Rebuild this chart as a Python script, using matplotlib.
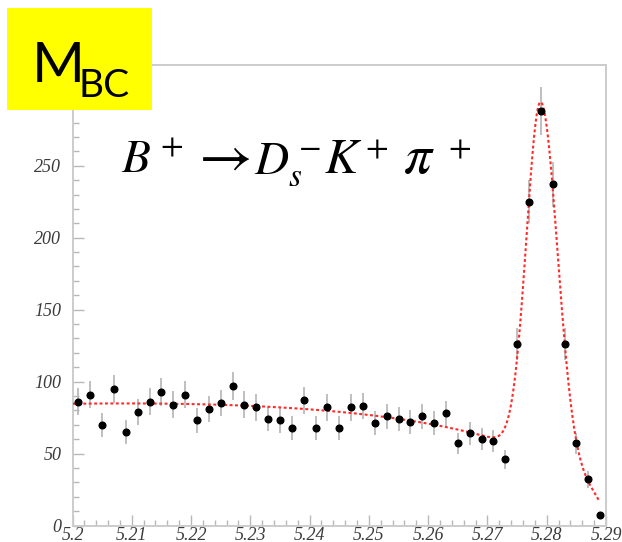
import numpy as np
import matplotlib
matplotlib.use("Agg")
import matplotlib.pyplot as plt
from matplotlib.patches import Rectangle
from matplotlib.ticker import MultipleLocator

# M_bc histogram, 45 bins between 5.20 and 5.29 GeV
mass_lo, mass_hi, n_bins = 5.20, 5.29, 45
counts = [86, 91, 70, 95, 65, 79, 86, 93, 84, 91,
          73, 81, 85, 97, 84, 82, 74, 73, 68, 87,
          68, 82, 68, 82, 83, 71, 76, 74, 72, 76,
          71, 78, 57, 64, 60, 59, 46, 126, 225, 288,
          237, 126, 57, 32, 7]

# fit: argus background + bifurcated gaussian signal
bkg_at_lo = 84.6
argus_end = 5.29
argus_c = -15.9
sig_mean = 5.279
sig_height = 246.0
sig_left = 0.0024
sig_right = 0.0028
fit_hi = 5.2889

xticks = [5.20, 5.21, 5.22, 5.23, 5.24, 5.25, 5.26, 5.27, 5.28, 5.29]
xticklabels = ["5.2", "5.21", "5.22", "5.23", "5.24", "5.25", "5.26", "5.27", "5.28", "5.29"]
yticks = [0, 50, 100, 150, 200, 250, 300]
yticklabels = ["0", "50", "100", "150", "200", "250", ""]  # 300 sits under the tag

W, H = 622, 542

def argus(m):
    x = m / argus_end
    z = np.clip(1 - x * x, 0, None)
    return m * np.sqrt(z) * np.exp(argus_c * z)

def fit(m):
    bkg = bkg_at_lo * argus(m) / argus(mass_lo)
    s = np.where(m < sig_mean, sig_left, sig_right)
    return bkg + sig_height * np.exp(-0.5 * ((m - sig_mean) / s) ** 2)

bw = (mass_hi - mass_lo) / n_bins
centers = mass_lo + bw * (np.arange(n_bins) + 0.5)
counts = np.array(counts, dtype=float)

plt.rcParams["mathtext.fontset"] = "stix"
fig = plt.figure(figsize=(W / 100, H / 100), dpi=100)
ax = fig.add_axes([72.5 / W, (H - 525.5) / H, (606 - 72.5) / W, (525.5 - 65) / H])

ax.errorbar(centers, counts, yerr=np.sqrt(counts), fmt="none",
            ecolor="#b4b4b4", elinewidth=1.2, zorder=2)
mm = np.linspace(mass_lo, fit_hi, 800)
ax.plot(mm, fit(mm), color="#ff2a2a", lw=1.5, dashes=(1.4, 1.2), zorder=3)
ax.plot(centers, counts, "o", color="black", ms=4.8, zorder=4)

ax.set_xlim(mass_lo, mass_hi)
ax.set_ylim(0, 320)
ax.set_xticks(xticks)
ax.set_xticklabels(xticklabels)
ax.set_yticks(yticks)
ax.set_yticklabels(yticklabels)
ax.xaxis.set_minor_locator(MultipleLocator(0.002))
ax.yaxis.set_minor_locator(MultipleLocator(10))

for sp in ax.spines.values():
    sp.set_color("#cccccc")
    sp.set_linewidth(1.4)
ax.tick_params(which="both", direction="in", color="#b8b8b8", width=1.0,
               top=False, right=False)
ax.tick_params(which="major", length=8)
ax.tick_params(which="minor", length=4)
ax.tick_params(axis="y", pad=8)
ax.tick_params(axis="x", pad=1)
for lab in ax.get_xticklabels() + ax.get_yticklabels():
    lab.set_family("Liberation Serif")
    lab.set_style("italic")
    lab.set_fontsize(13)
    lab.set_color("#3a3a3a")

# decay label, piece by piece so the spacing stays wide
base = (H - 173) / H
pieces = [(121, r"$B^+$", 34), (190, r"$\rightarrow$", 42),
          (254, r"$D_s^-$", 34), (324, r"$K$", 36), (360, r"$^+$", 34),
          (403, r"$\pi$", 40), (443, r"$^+$", 34)]
for px, txt, fs in pieces:
    fig.text(px / W, base, txt, fontsize=fs, ha="left", va="baseline", color="black")

# yellow M_BC tag
fig.patches.append(Rectangle((7 / W, (H - 110) / H), 145 / W, 102 / H,
                             transform=fig.transFigure, facecolor="#ffff00",
                             edgecolor="none", zorder=5))
fig.text(32 / W, (H - 82) / H, "M", family="Lato", fontsize=41,
         ha="left", va="baseline", zorder=6)
fig.text(79 / W, (H - 97) / H, "BC", family="Lato", fontsize=28,
         ha="left", va="baseline", zorder=6)

fig.savefig("out.png", dpi=100)
